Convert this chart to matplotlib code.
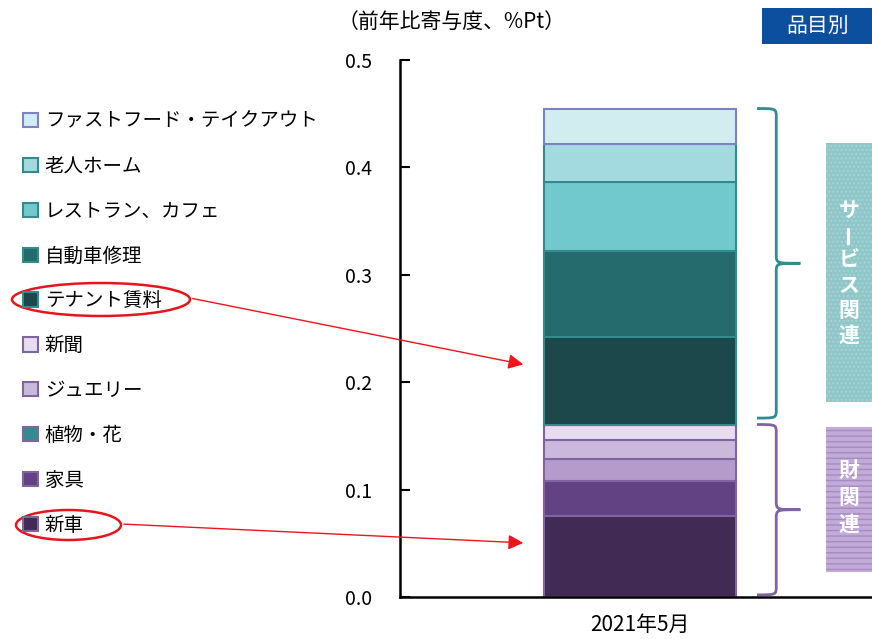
import numpy as np
import matplotlib
matplotlib.use('Agg')
import matplotlib.pyplot as plt
from matplotlib.patches import Patch, Rectangle, Ellipse, PathPatch
from matplotlib.path import Path

plt.rcParams['font.family'] = ['Noto Sans CJK JP', 'DejaVu Sans']

# stacked contributions, bottom to top
items = ['新車', '家具', '植物・花', 'ジュエリー', '新聞',
         'テナント賃料', '自動車修理', 'レストラン、カフェ', '老人ホーム',
         'ファストフード・テイクアウト']
values = [0.0756, 0.0323, 0.0202, 0.0182, 0.0143,
          0.0812, 0.0803, 0.0642, 0.0357, 0.0328]
period = '2021年5月'
n_goods = 5

fills = ['#412B55', '#634283', '#B49BCB', '#CBB9DC', '#E6DDEE',
         '#1C474B', '#256A6D', '#72C9CD', '#A3DADF', '#D2EDEF']
edges = ['#8064A2'] * 5 + ['#338B8E'] * 4 + ['#7C83C4']
legend_fills = fills[:2] + ['#338B8E'] + fills[3:]

fig = plt.figure(figsize=(8.72, 6.39), dpi=100)
ax = fig.add_axes([400 / 872, 1 - 597 / 639, 472 / 872, 537 / 639])

bottom = 0.0
for v, fc, ec in zip(values, fills, edges):
    ax.bar(0, v, 0.8, bottom=bottom, color=fc, edgecolor=ec, linewidth=1.5)
    bottom += v

ax.set_xlim(-0.995, 0.962)
ax.set_ylim(0, 0.5)
ax.set_yticks(np.arange(0, 0.51, 0.1))
ax.set_yticklabels(['%.1f' % t for t in np.arange(0, 0.51, 0.1)])
ax.set_xticks([0])
ax.set_xticklabels([period])
ax.tick_params(axis='y', direction='in', length=7, width=1.5, labelsize=14, pad=20)
ax.tick_params(axis='x', length=0, labelsize=15, pad=12)
ax.spines['top'].set_visible(False)
ax.spines['right'].set_visible(False)
ax.spines['left'].set_linewidth(1.8)
ax.spines['bottom'].set_linewidth(1.8)


# curly braces beside the stack
def brace(ax, ytop, ybot, color):
    x0, x1, x2 = 0.485, 0.565, 0.665
    ymid = (ytop + ybot) / 2
    d = 0.008
    verts = [(x0, ytop), (x1, ytop), (x1, ytop), (x1, ytop - d),
             (x1, ymid + d),
             (x1, ymid), (x1, ymid), (x2, ymid),
             (x1, ymid), (x1, ymid), (x1, ymid - d),
             (x1, ybot + d),
             (x1, ybot), (x1, ybot), (x0, ybot)]
    codes = [Path.MOVETO, Path.CURVE4, Path.CURVE4, Path.CURVE4,
             Path.LINETO,
             Path.CURVE4, Path.CURVE4, Path.CURVE4,
             Path.CURVE4, Path.CURVE4, Path.CURVE4,
             Path.LINETO,
             Path.CURVE4, Path.CURVE4, Path.CURVE4]
    ax.add_patch(PathPatch(Path(verts, codes), fill=False, edgecolor=color,
                           linewidth=2, clip_on=False))


total = sum(values)
goods = sum(values[:n_goods])
brace(ax, total, goods + 0.006, '#338B8E')
brace(ax, goods, 0.002, '#8064A2')

# legend on the left
handles = [Patch(facecolor=fc, edgecolor=ec, linewidth=1.5)
           for fc, ec in zip(legend_fills, edges)][::-1]
fig.legend(handles, items[::-1], loc='upper left', bbox_to_anchor=(0.018, 0.839),
           frameon=False, fontsize=14, labelspacing=1.23, handlelength=0.75,
           handleheight=0.75, handletextpad=0.35, borderaxespad=0)

# annotation layer in pixel coordinates
ov = fig.add_axes([0, 0, 1, 1], zorder=5)
ov.set_xlim(0, 872)
ov.set_ylim(639, 0)
ov.axis('off')
ov.patch.set_alpha(0)

ov.add_patch(Ellipse((101, 299.5), 178, 33, fill=False, edgecolor='#E8141B', linewidth=1.8))
ov.add_patch(Ellipse((68.5, 525), 105, 30, fill=False, edgecolor='#E8141B', linewidth=1.8))
arrow = dict(arrowstyle='-|>,head_length=0.9,head_width=0.45', color='#F0141B', linewidth=1)
ov.annotate('', xy=(526, 365), xytext=(190, 298), arrowprops=arrow)
ov.annotate('', xy=(526, 543), xytext=(121, 524), arrowprops=arrow)

# group labels, written top to bottom
ov.add_patch(Rectangle((826, 143), 46, 259, facecolor='#8FC7C9', edgecolor='#A7D3D4',
                       hatch='....', linewidth=0))
ov.add_patch(Rectangle((826, 427), 46, 145, facecolor='#C2AAD9', edgecolor='#A58BC0',
                       hatch='---', linewidth=0))


def vertical_text(x, ytop, text, step):
    for i, ch in enumerate(text):
        ov.text(x, ytop + i * step, ch, color='white', fontsize=15, fontweight='bold',
                ha='center', va='center', rotation=90 if ch == 'ー' else 0)


vertical_text(849, 210, 'サービス関連', 25)
vertical_text(849, 470, '財関連', 27)

ov.add_patch(Rectangle((762, 8), 110, 36, facecolor='#0B4F9E', linewidth=0))
ov.text(818, 26, '品目別', color='white', fontsize=15, ha='center', va='center')
ov.text(452, 22, '（前年比寄与度、%Pt）', color='black', fontsize=15, ha='center', va='center')

fig.savefig('out.png', dpi=100)
